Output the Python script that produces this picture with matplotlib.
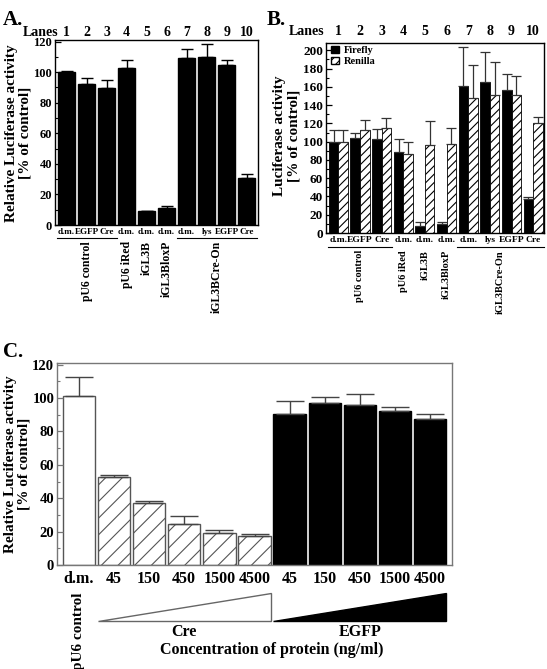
import matplotlib
matplotlib.use('Agg')
import matplotlib.pyplot as plt
import numpy as np
from matplotlib.patches import Polygon, Patch
from matplotlib.ticker import MultipleLocator
import matplotlib.transforms as mtransforms

plt.rcParams['font.family'] = ['Liberation Serif', 'DejaVu Serif']
plt.rcParams['font.weight'] = 'bold'
plt.rcParams['hatch.linewidth'] = 0.8

# ---------------- data ----------------
lanes = [str(i) for i in range(1, 11)]
lane_conditions = ['d.m.', 'EGFP', 'Cre', 'd.m.', 'd.m.', 'd.m.', 'd.m.', 'lys', 'EGFP', 'Cre']
plasmid_groups = ['pU6 control', 'pU6 iRed', 'iGL3B', 'iGL3BloxP', 'iGL3BCre-On']
group_lanes = [[1, 2, 3], [4], [5], [6], [7, 8, 9, 10]]

a_values = [100.2, 92.4, 89.4, 102.4, 8.9, 11.1, 109.3, 109.7, 104.8, 30.5]
a_errors = [0.4, 3.5, 5.4, 5.8, 0.5, 1.6, 5.8, 8.9, 3.4, 2.6]

b_firefly = [100, 104, 103, 89, 8, 10, 161, 165, 157, 37]
b_firefly_err = [13, 6, 11, 14, 3.5, 2.3, 43, 33, 17, 2.5]
b_renilla = [100, 113, 115, 87, 96, 97, 148, 151, 151, 120]
b_renilla_err = [13, 11, 11, 13, 27, 18, 36, 36, 21, 7]

c_categories = ['d.m.', '45', '150', '450', '1500', '4500', '45', '150', '450', '1500', '4500']
c_control = [101.0]
c_control_err = [11.5]
c_cre = [52.8, 37.2, 24.8, 19.2, 17.2]
c_cre_err = [1.2, 1.4, 4.4, 2.0, 1.4]
c_egfp = [90.6, 96.8, 96.0, 92.2, 87.6]
c_egfp_err = [7.8, 3.8, 6.2, 2.4, 2.8]

# ---------------- figure ----------------
W, H = 547, 669
fig = plt.figure(figsize=(W / 100, H / 100), dpi=100)


def ax_px(x0, y0, x1, y1):
    return fig.add_axes([x0 / W, 1 - y1 / H, (x1 - x0) / W, (y1 - y0) / H])


def fx(x):
    return x / W


def fy(y):
    return 1 - y / H


def style_y(ax, top, size, spine_color='black'):
    ax.set_ylim(0, top)
    ax.yaxis.set_major_locator(MultipleLocator(20))
    ax.yaxis.set_minor_locator(MultipleLocator(10))
    ax.tick_params(axis='y', which='major', direction='in', length=4, width=0.9,
                   labelsize=size, pad=2, colors=spine_color, labelcolor='black')
    ax.tick_params(axis='y', which='minor', direction='in', length=2.5, width=0.8,
                   colors=spine_color)
    for s in ax.spines.values():
        s.set_color(spine_color)
        s.set_linewidth(1.0)


def lane_panel(ax, y_lanes, x_lanes_word, y_under, y_group, tick_size, group_size):
    x = np.arange(10)
    trans = mtransforms.blended_transform_factory(ax.transData, ax.transAxes)
    ax.set_xticks(x)
    ax.set_xticklabels(lane_conditions, fontsize=tick_size)
    ax.tick_params(axis='x', length=0, pad=2)
    for i, lab in enumerate(lanes):
        ax.text(i, y_lanes, lab, transform=trans, ha='center', va='center', fontsize=10)
    ax.text(x_lanes_word, y_lanes, 'Lanes', transform=trans, ha='right', va='center', fontsize=10)
    for name, gl in zip(plasmid_groups, group_lanes):
        idx = np.array(gl) - 1
        if len(gl) > 1:
            ax.plot([idx[0] - 0.5, idx[-1] + 0.5], [y_under, y_under], transform=trans,
                    color='black', lw=0.8, clip_on=False)
        ax.text(idx.mean(), y_group, name, transform=trans, rotation=90, ha='center',
                va='top', fontsize=group_size)


# ---------------- Panel A ----------------
axA = ax_px(55, 40, 258, 225)
xA = np.arange(10)
axA.bar(xA, a_values, width=0.83, color='black', edgecolor='black')
axA.errorbar(xA, a_values, yerr=[np.zeros(10), a_errors], fmt='none', ecolor='black',
             elinewidth=1, capsize=4.5, capthick=1)
axA.set_xlim(-0.58, 9.57)
style_y(axA, 121, 9)
lane_panel(axA, 1.043, -0.4, -0.070, -0.086, 6.5, 8.5)
fig.text(fx(18), fy(133), 'Relative Luciferase activity\n[% of control]', rotation=90,
         ha='center', va='center', fontsize=11, linespacing=1.05)
fig.text(fx(3), fy(25), 'A.', fontsize=15, ha='left', va='baseline')

# ---------------- Panel B ----------------
axB = ax_px(326, 43, 544, 233)
xB = np.arange(10)
bw = 0.44
axB.bar(xB - bw / 2, b_firefly, width=bw, color='black', edgecolor='black', lw=0.6,
        label='Firefly')
axB.bar(xB + bw / 2, b_renilla, width=bw, color='white', edgecolor='black', lw=0.6,
        hatch='////', label='Renilla')
axB.errorbar(xB - bw / 2, b_firefly, yerr=[np.zeros(10), b_firefly_err], fmt='none',
             ecolor='#333333', elinewidth=0.9, capsize=3.5, capthick=0.9)
axB.errorbar(xB + bw / 2, b_renilla, yerr=[np.zeros(10), b_renilla_err], fmt='none',
             ecolor='#333333', elinewidth=0.9, capsize=3.5, capthick=0.9)
axB.set_xlim(-0.57, 9.5)
style_y(axB, 208, 9.5)
lane_panel(axB, 1.058, -0.62, -0.076, -0.089, 6.8, 7.5)
axB.legend(handles=[Patch(facecolor='black', edgecolor='black', label='Firefly'),
                    Patch(facecolor='white', edgecolor='black', hatch='////', label='Renilla')],
           loc='upper left', bbox_to_anchor=(0.025, 0.985), frameon=False, fontsize=7.5,
           handlelength=0.75, handleheight=0.75, handletextpad=0.4, labelspacing=0.15,
           borderpad=0, borderaxespad=0)
fig.text(fx(286.5), fy(136), 'Luciferase activity\n[% of control]', rotation=90,
         ha='center', va='center', fontsize=11, linespacing=1.1)
fig.text(fx(267), fy(25), 'B.', fontsize=15, ha='left', va='baseline')

# ---------------- Panel C ----------------
axC = ax_px(57, 363, 452, 565)
edge = '#555555'
x0 = np.arange(1)
x1 = np.arange(1, 6)
x2 = np.arange(6, 11)
cw = 0.92
axC.bar(x0, c_control, width=cw, color='white', edgecolor=edge, lw=1)
axC.bar(x1, c_cre, width=cw, color='white', edgecolor=edge, lw=1, hatch='//')
axC.bar(x2, c_egfp, width=cw, color='black', edgecolor='black', lw=1)
for xs, vals, errs in [(x0, c_control, c_control_err), (x1, c_cre, c_cre_err),
                       (x2, c_egfp, c_egfp_err)]:
    axC.errorbar(xs, vals, yerr=[np.zeros(len(vals)), errs], fmt='none', ecolor='#444444',
                 elinewidth=1, capsize=10, capthick=1)
axC.set_xlim(-0.62, 10.62)
style_y(axC, 121, 10.5, spine_color='#777777')
axC.set_xticks(np.arange(11))
axC.set_xticklabels(c_categories, fontsize=11.5)
axC.tick_params(axis='x', length=0, pad=4)
transC = mtransforms.blended_transform_factory(axC.transData, axC.transAxes)
yb, yt = -0.277, -0.139
axC.add_patch(Polygon([[x1[0] - cw / 2, yb], [x1[-1] + cw / 2, yb], [x1[-1] + cw / 2, yt]],
                      closed=True, facecolor='white', edgecolor='#666666', lw=1,
                      transform=transC, clip_on=False))
axC.add_patch(Polygon([[x2[0] - cw / 2, yb], [x2[-1] + cw / 2, yb], [x2[-1] + cw / 2, yt]],
                      closed=True, facecolor='black', edgecolor='black', lw=1,
                      transform=transC, clip_on=False))
axC.text(x1.mean(), -0.332, 'Cre', transform=transC, ha='center', va='center', fontsize=11.5)
axC.text(x2.mean(), -0.332, 'EGFP', transform=transC, ha='center', va='center', fontsize=11.5)
axC.text(5.5, -0.42, 'Concentration of protein (ng/ml)', transform=transC, ha='center',
         va='center', fontsize=11.5)
axC.text(0, -0.134, 'pU6 control', transform=transC, rotation=90, ha='center', va='top',
         fontsize=11)
fig.text(fx(17), fy(464), 'Relative Luciferase activity\n[% of control]', rotation=90,
         ha='center', va='center', fontsize=11, linespacing=1.05)
fig.text(fx(3), fy(357), 'C.', fontsize=15, ha='left', va='baseline')

fig.savefig('out.png', dpi=100)
